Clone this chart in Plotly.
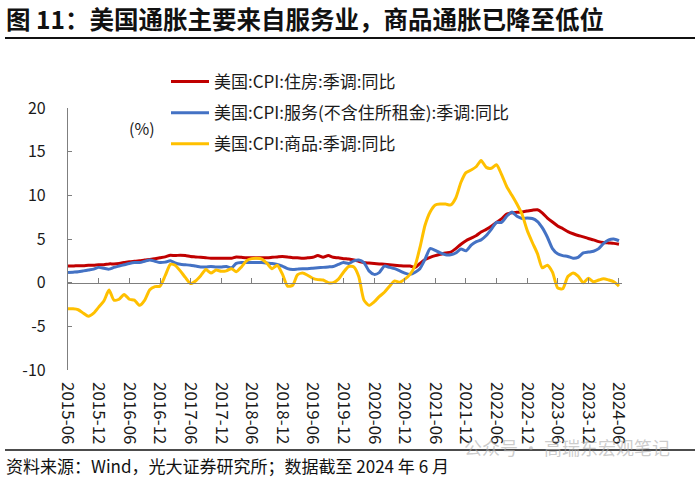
import pandas as pd
import plotly.graph_objects as go

# ---------------- data (monthly, 2015-06 .. 2024-06) ----------------
start_month = "2015-06-01"
n_months = 109

housing = [1.9, 1.9, 1.95, 1.95, 2.0, 2.0, 2.05, 2.05, 2.15, 2.15, 2.2, 2.3,
           2.4, 2.45, 2.5, 2.6, 2.65, 2.75, 2.85, 2.95, 3.15, 3.1, 3.15, 3.1,
           3.0, 2.95, 2.9, 2.85, 2.8, 2.8, 2.8, 2.8, 2.8, 2.95, 2.9, 2.85,
           2.85, 2.85, 2.85, 2.85, 2.9, 2.95, 3.0, 2.95, 2.85, 2.85, 2.8, 2.85,
           2.9, 3.1, 2.9, 3.1, 2.9, 2.85, 2.75, 2.7, 2.6, 2.45, 2.3, 2.25,
           2.2, 2.15, 2.1, 2.05, 2.0, 1.95, 1.9, 1.9, 1.75, 2.2, 2.65, 2.9,
           3.1, 3.25, 3.4, 3.5, 3.9, 4.4, 4.8, 5.1, 5.4, 5.8, 6.1, 6.45,
           6.9, 7.3, 7.85, 8.0, 8.05, 8.1, 8.2, 8.3, 8.35, 8.0, 7.4, 6.95,
           6.5, 6.2, 5.85, 5.6, 5.4, 5.25, 5.05, 4.9, 4.7, 4.6, 4.55, 4.5, 4.4]

services_ex_rent = [1.15, 1.2, 1.25, 1.35, 1.45, 1.55, 1.75, 1.65, 1.55, 1.75, 1.9, 2.05,
                    2.2, 2.3, 2.3, 2.45, 2.6, 2.45, 2.3, 2.35, 2.5, 2.25, 2.1, 2.05,
                    2.0, 1.9, 1.8, 1.8, 1.85, 1.8, 1.8, 1.85, 1.7, 2.2, 2.3, 2.3,
                    2.3, 2.3, 2.3, 2.25, 2.2, 2.1, 1.9, 1.6, 1.5, 1.55, 1.6, 1.6,
                    1.65, 1.7, 1.75, 1.8, 1.85, 2.1, 2.3, 2.2, 2.5, 2.6, 2.3, 1.35,
                    0.95, 1.15, 1.9, 1.75, 1.6, 1.35, 1.1, 0.95, 1.2, 1.6, 2.7, 3.9,
                    3.7, 3.4, 3.2, 3.2, 3.4, 3.85, 3.65, 4.3, 4.7, 4.9, 5.4, 6.1,
                    6.9, 6.9, 7.6, 8.1, 7.6, 7.35, 7.4, 7.35, 7.0, 6.3, 5.2, 3.9,
                    3.3, 3.1, 3.0, 2.8, 2.9, 3.4, 3.5, 3.6, 3.9, 4.5, 4.9, 5.0, 4.8]

commodities = [-3.0, -3.0, -3.1, -3.5, -3.85, -3.5, -2.8, -2.1, -0.85, -2.0, -1.9, -1.35,
               -1.9, -2.0, -2.6, -2.0, -0.8, -0.45, -0.4, 0.8, 2.1, 2.0, 1.35, 0.6,
               -0.1, 0.2, 0.8, 1.5, 1.1, 1.45, 1.3, 1.35, 1.6, 1.25, 1.8, 2.5,
               2.75, 2.8, 2.7, 2.2, 1.6, 2.0, 1.0, -0.4, -0.3, 0.9, 1.1, 0.85,
               0.5, 0.35, 0.3, 0.0, 0.0, 0.4, 1.2, 1.85, 1.8, 0.7, -2.0, -2.6,
               -2.2, -1.6, -1.1, -0.4, 0.2, 0.05, 0.4, 0.95, 2.0, 4.0, 6.6, 8.1,
               8.9, 9.0, 9.0, 8.9, 9.7, 11.5, 12.6, 12.9, 13.3, 14.0, 13.2, 13.1,
               13.5, 12.4, 11.0, 10.0, 9.0, 7.8, 6.0, 4.6, 3.3, 1.7, 2.0, 1.2,
               -0.6, -0.7, 0.7, 1.1, 0.75, 0.0, 0.5, 0.1, 0.3, 0.45, 0.3, 0.1, -0.4]

series_names = ["美国:CPI:住房:季调:同比",
                "美国:CPI:服务(不含住所租金):季调:同比",
                "美国:CPI:商品:季调:同比"]
series_colors = ["#C00000", "#4472C4", "#FFC000"]

y_tick_values = [-10, -5, 0, 5, 10, 15, 20]
y_tick_labels = ["-10", "-5", "0", "5", "10", "15", "20"]

title_text = "图 11：美国通胀主要来自服务业，商品通胀已降至低位"
source_text = "资料来源：Wind，光大证券研究所；数据截至 2024 年 6 月"
unit_text = "(%)"
watermark_text = "公众号 · 高瑞东宏观笔记"

# ---------------- figure ----------------
dates = pd.date_range(start_month, periods=n_months, freq="MS")
FONT = "Noto Sans CJK SC"
W, H = 700, 478
ML, MR, MT, MB = 68, 78, 108, 108
PW, PH = W - ML - MR, H - MT - MB


def px_x(px):
    return (px - ML) / PW


def px_y(py):
    return (H - MB - py) / PH


fig = go.Figure()
for name, vals, col in zip(series_names, [housing, services_ex_rent, commodities], series_colors):
    fig.add_trace(go.Scatter(
        x=dates, y=vals, name=name, mode="lines",
        line=dict(color=col, width=3, shape="spline", smoothing=0.6),
        legendgroup=name,
    ))

x_range = ["2015-06-01", "2024-06-19"]
y_range = [-10, 20]
zero_pos = (0 - y_range[0]) / (y_range[1] - y_range[0])

fig.update_layout(
    width=W, height=H,
    margin=dict(l=ML, r=MR, t=MT, b=MB),
    paper_bgcolor="white", plot_bgcolor="white",
    font=dict(family=FONT, color="#1a1a1a", size=16),
    showlegend=True,
    legend=dict(
        x=px_x(166), y=px_y(64), xanchor="left", yanchor="top",
        bgcolor="rgba(0,0,0,0)", font=dict(size=17, family=FONT, color="#1a1a1a"),
        tracegroupgap=6, itemwidth=38,
    ),
    xaxis=dict(
        type="date", range=x_range, showgrid=False, showline=False, zeroline=False,
        ticks="", tickmode="linear", tick0="2015-06-01", dtick="M6", tickformat="%Y-%m",
        tickangle=90, tickfont=dict(size=17, family=FONT, color="#1a1a1a"),
        ticklabelstandoff=11,
    ),
    xaxis2=dict(
        type="date", range=x_range, overlaying="x", anchor="free", position=zero_pos,
        showgrid=False, showline=True, linecolor="#7f7f7f", linewidth=1.3, zeroline=False,
        ticks="inside", ticklen=5, tickwidth=1.3, tickcolor="#7f7f7f",
        tickmode="linear", tick0="2015-06-01", dtick="M6", showticklabels=False,
    ),
    yaxis=dict(
        range=y_range, tickvals=y_tick_values, ticktext=y_tick_labels,
        showgrid=False, zeroline=False, showline=True, linecolor="#7f7f7f", linewidth=1.3,
        ticks="inside", ticklen=4, tickwidth=1.3, tickcolor="#7f7f7f",
        tickfont=dict(size=16, family=FONT, color="#1a1a1a"), ticklabelstandoff=18,
    ),
)

# dummy trace so xaxis2 is drawn
fig.add_trace(go.Scatter(x=[dates[0]], y=[None], xaxis="x2", showlegend=False,
                         hoverinfo="skip", mode="lines"))

# title
fig.add_annotation(text=title_text, xref="paper", yref="paper", x=px_x(4), y=px_y(19),
                   xanchor="left", yanchor="middle", showarrow=False,
                   font=dict(size=24.5, family=FONT, color="#111111", weight="bold"))
# unit
fig.add_annotation(text=unit_text, xref="paper", yref="paper", x=px_x(142), y=px_y(128),
                   xanchor="center", yanchor="middle", showarrow=False,
                   font=dict(size=16, family=FONT, color="#1a1a1a"))
# watermark
fig.add_annotation(text=watermark_text, xref="paper", yref="paper", x=px_x(462), y=px_y(447),
                   xanchor="left", yanchor="middle", showarrow=False,
                   font=dict(size=18, family=FONT, color="rgba(170,170,170,0.6)"))
# source
fig.add_annotation(text=source_text, xref="paper", yref="paper", x=px_x(4), y=px_y(465),
                   xanchor="left", yanchor="middle", showarrow=False,
                   font=dict(size=17, family=FONT, color="#111111"))
# rules
fig.add_shape(type="line", xref="paper", yref="paper", x0=px_x(5), x1=px_x(695),
              y0=px_y(38), y1=px_y(38), line=dict(color="#111111", width=2))
fig.add_shape(type="line", xref="paper", yref="paper", x0=px_x(5), x1=px_x(695),
              y0=px_y(450), y1=px_y(450), line=dict(color="#111111", width=1.5))

fig.write_html("out.html",
               config={"displayModeBar": False},
               post_script="document.body.style.margin='0';document.body.style.overflow='hidden';")
